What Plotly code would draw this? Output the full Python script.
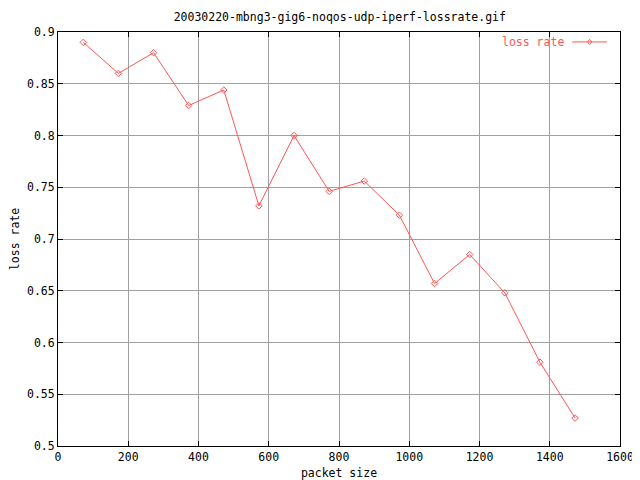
import plotly.graph_objects as go

packet_size = [72, 172, 272, 372, 472, 572, 672, 772, 872, 972, 1072, 1172, 1272, 1372, 1472]
loss_rate = [0.890, 0.860, 0.880, 0.829, 0.844, 0.732, 0.800, 0.746, 0.756, 0.723, 0.657, 0.685, 0.648, 0.581, 0.527]

x_ticks = [0, 200, 400, 600, 800, 1000, 1200, 1400, 1600]
y_ticks = [0.5, 0.55, 0.6, 0.65, 0.7, 0.75, 0.8, 0.85, 0.9]
y_tick_text = ["0.5", "0.55", "0.6", "0.65", "0.7", "0.75", "0.8", "0.85", "0.9"]

RED = "#ff5555"
FONT = "DejaVu Sans Mono"
FS = 11.5

# page body has an 8px margin; size the figure so it fits the 640x480 window
W, H = 632, 472

fig = go.Figure()
fig.add_trace(go.Scatter(
    x=packet_size, y=loss_rate, mode="lines+markers",
    line=dict(color=RED, width=1),
    marker=dict(symbol="diamond-open", size=5, color=RED, line=dict(width=1, color=RED)),
    showlegend=False, name="loss rate",
))

axis_common = dict(
    showline=True, linecolor="black", linewidth=1, mirror="ticks",
    ticks="inside", ticklen=5, tickcolor="black",
    showgrid=True, gridcolor="#a0a0a0", gridwidth=1, zeroline=False,
    tickfont=dict(family=FONT, size=FS, color="black"),
    automargin=False,
)

fig.update_xaxes(range=[0, 1600], tickvals=x_ticks, **axis_common,
                 title=dict(text="packet size", font=dict(family=FONT, size=FS, color="black"), standoff=6))
fig.update_yaxes(range=[0.5, 0.9], tickvals=y_ticks, ticktext=y_tick_text, **axis_common,
                 title=dict(text="loss rate", font=dict(family=FONT, size=FS, color="black"), standoff=8))

# custom gnuplot-style legend
fig.add_annotation(xref="paper", yref="paper", x=0.904, y=0.976, xanchor="right", yanchor="middle",
                   text="loss rate", showarrow=False, font=dict(family=FONT, size=FS, color=RED))
fig.add_shape(type="line", xref="paper", yref="paper", x0=0.915, x1=0.977, y0=0.976, y1=0.976,
              line=dict(color=RED, width=1))
fig.add_shape(type="path", xref="paper", yref="paper",
              path="M 0.946 0.982 L 0.950 0.976 L 0.946 0.970 L 0.942 0.976 Z",
              line=dict(color=RED, width=1))

fig.update_layout(
    width=W, height=H,
    margin=dict(l=50, r=20, t=24, b=34),
    paper_bgcolor="white", plot_bgcolor="white",
    title=dict(text="20030220-mbng3-gig6-noqos-udp-iperf-lossrate.gif", x=0.525, xanchor="center",
               y=1 - 9 / H, yanchor="middle", font=dict(family=FONT, size=FS, color="black")),
    font=dict(family=FONT, size=FS, color="black"),
)

fig.write_html("out.html")
